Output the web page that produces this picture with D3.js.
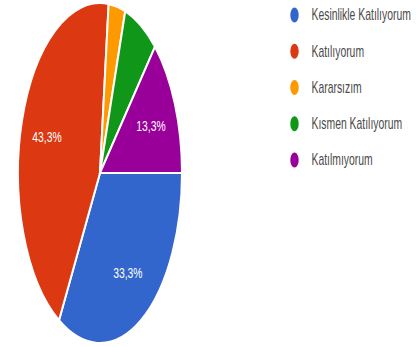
<!DOCTYPE html>
<html>
<head>
<meta charset="utf-8">
<script src="https://cdn.jsdelivr.net/npm/d3@7"></script>
<style>
  html, body { margin: 0; padding: 0; background: #ffffff; }
  svg { display: block; }
</style>
</head>
<body>
<svg id="chart" width="416" height="347"></svg>
<script>
// Data
const categories = ["Kesinlikle Katılıyorum", "Katılıyorum", "Kararsızım", "Kısmen Katılıyorum", "Katılmıyorum"];
const values = [33.3, 43.3, 3.3, 6.7, 13.3];
const labels = ["33,3%", "43,3%", "", "", "13,3%"];
const colors = ["#3366cc", "#dc3912", "#ff9900", "#109618", "#990099"];

const svg = d3.select("#chart");
const cx = 100, cy = 173;
const R = 170;            // radius in circle space (vertical)
const sx = 82 / 170;      // horizontal squeeze of the picture

const pie = d3.pie()
  .value(d => d.v)
  .sort(null)
  .startAngle(Math.PI / 2)
  .endAngle(Math.PI / 2 + 2 * Math.PI);

const data = categories.map((c, i) => ({ c, v: values[i], label: labels[i], color: colors[i] }));
const arcs = pie(data);

const arc = d3.arc().innerRadius(0).outerRadius(R);
const labelArc = d3.arc().innerRadius(R * 0.68).outerRadius(R * 0.68);

const g = svg.append("g").attr("transform", `translate(${cx},${cy}) scale(${sx},1)`);
g.selectAll("path")
  .data(arcs)
  .join("path")
  .attr("d", arc)
  .attr("fill", d => d.data.color)
  .attr("stroke", "#ffffff")
  .attr("stroke-width", 2)
  .attr("vector-effect", "non-scaling-stroke");

// slice labels
svg.append("g").selectAll("text")
  .data(arcs.filter(d => d.data.label))
  .join("text")
  .attr("transform", d => {
    const [x, y] = labelArc.centroid(d);
    return `translate(${cx + x * sx},${cy + y}) scale(0.74,1)`;
  })
  .attr("text-anchor", "middle")
  .attr("dominant-baseline", "central")
  .attr("font-family", "'Liberation Sans', Arial, sans-serif")
  .attr("font-size", 14)
  .attr("fill", "#ffffff")
  .text(d => d.data.label);

// legend
const legendY = d3.scalePoint().domain(categories).range([15, 160]);
const lg = svg.append("g");
const items = lg.selectAll("g")
  .data(data)
  .join("g")
  .attr("transform", d => `translate(294.5,${legendY(d.c)})`);
items.append("ellipse")
  .attr("rx", 4.2)
  .attr("ry", 7.5)
  .attr("fill", d => d.color);
items.append("text")
  .attr("transform", "translate(17,0) scale(0.65,1)")
  .attr("dominant-baseline", "central")
  .attr("font-family", "'Liberation Sans', Arial, sans-serif")
  .attr("font-size", 16)
  .attr("fill", "#4a4a4a")
  .text(d => d.c);
</script>
</body>
</html>
